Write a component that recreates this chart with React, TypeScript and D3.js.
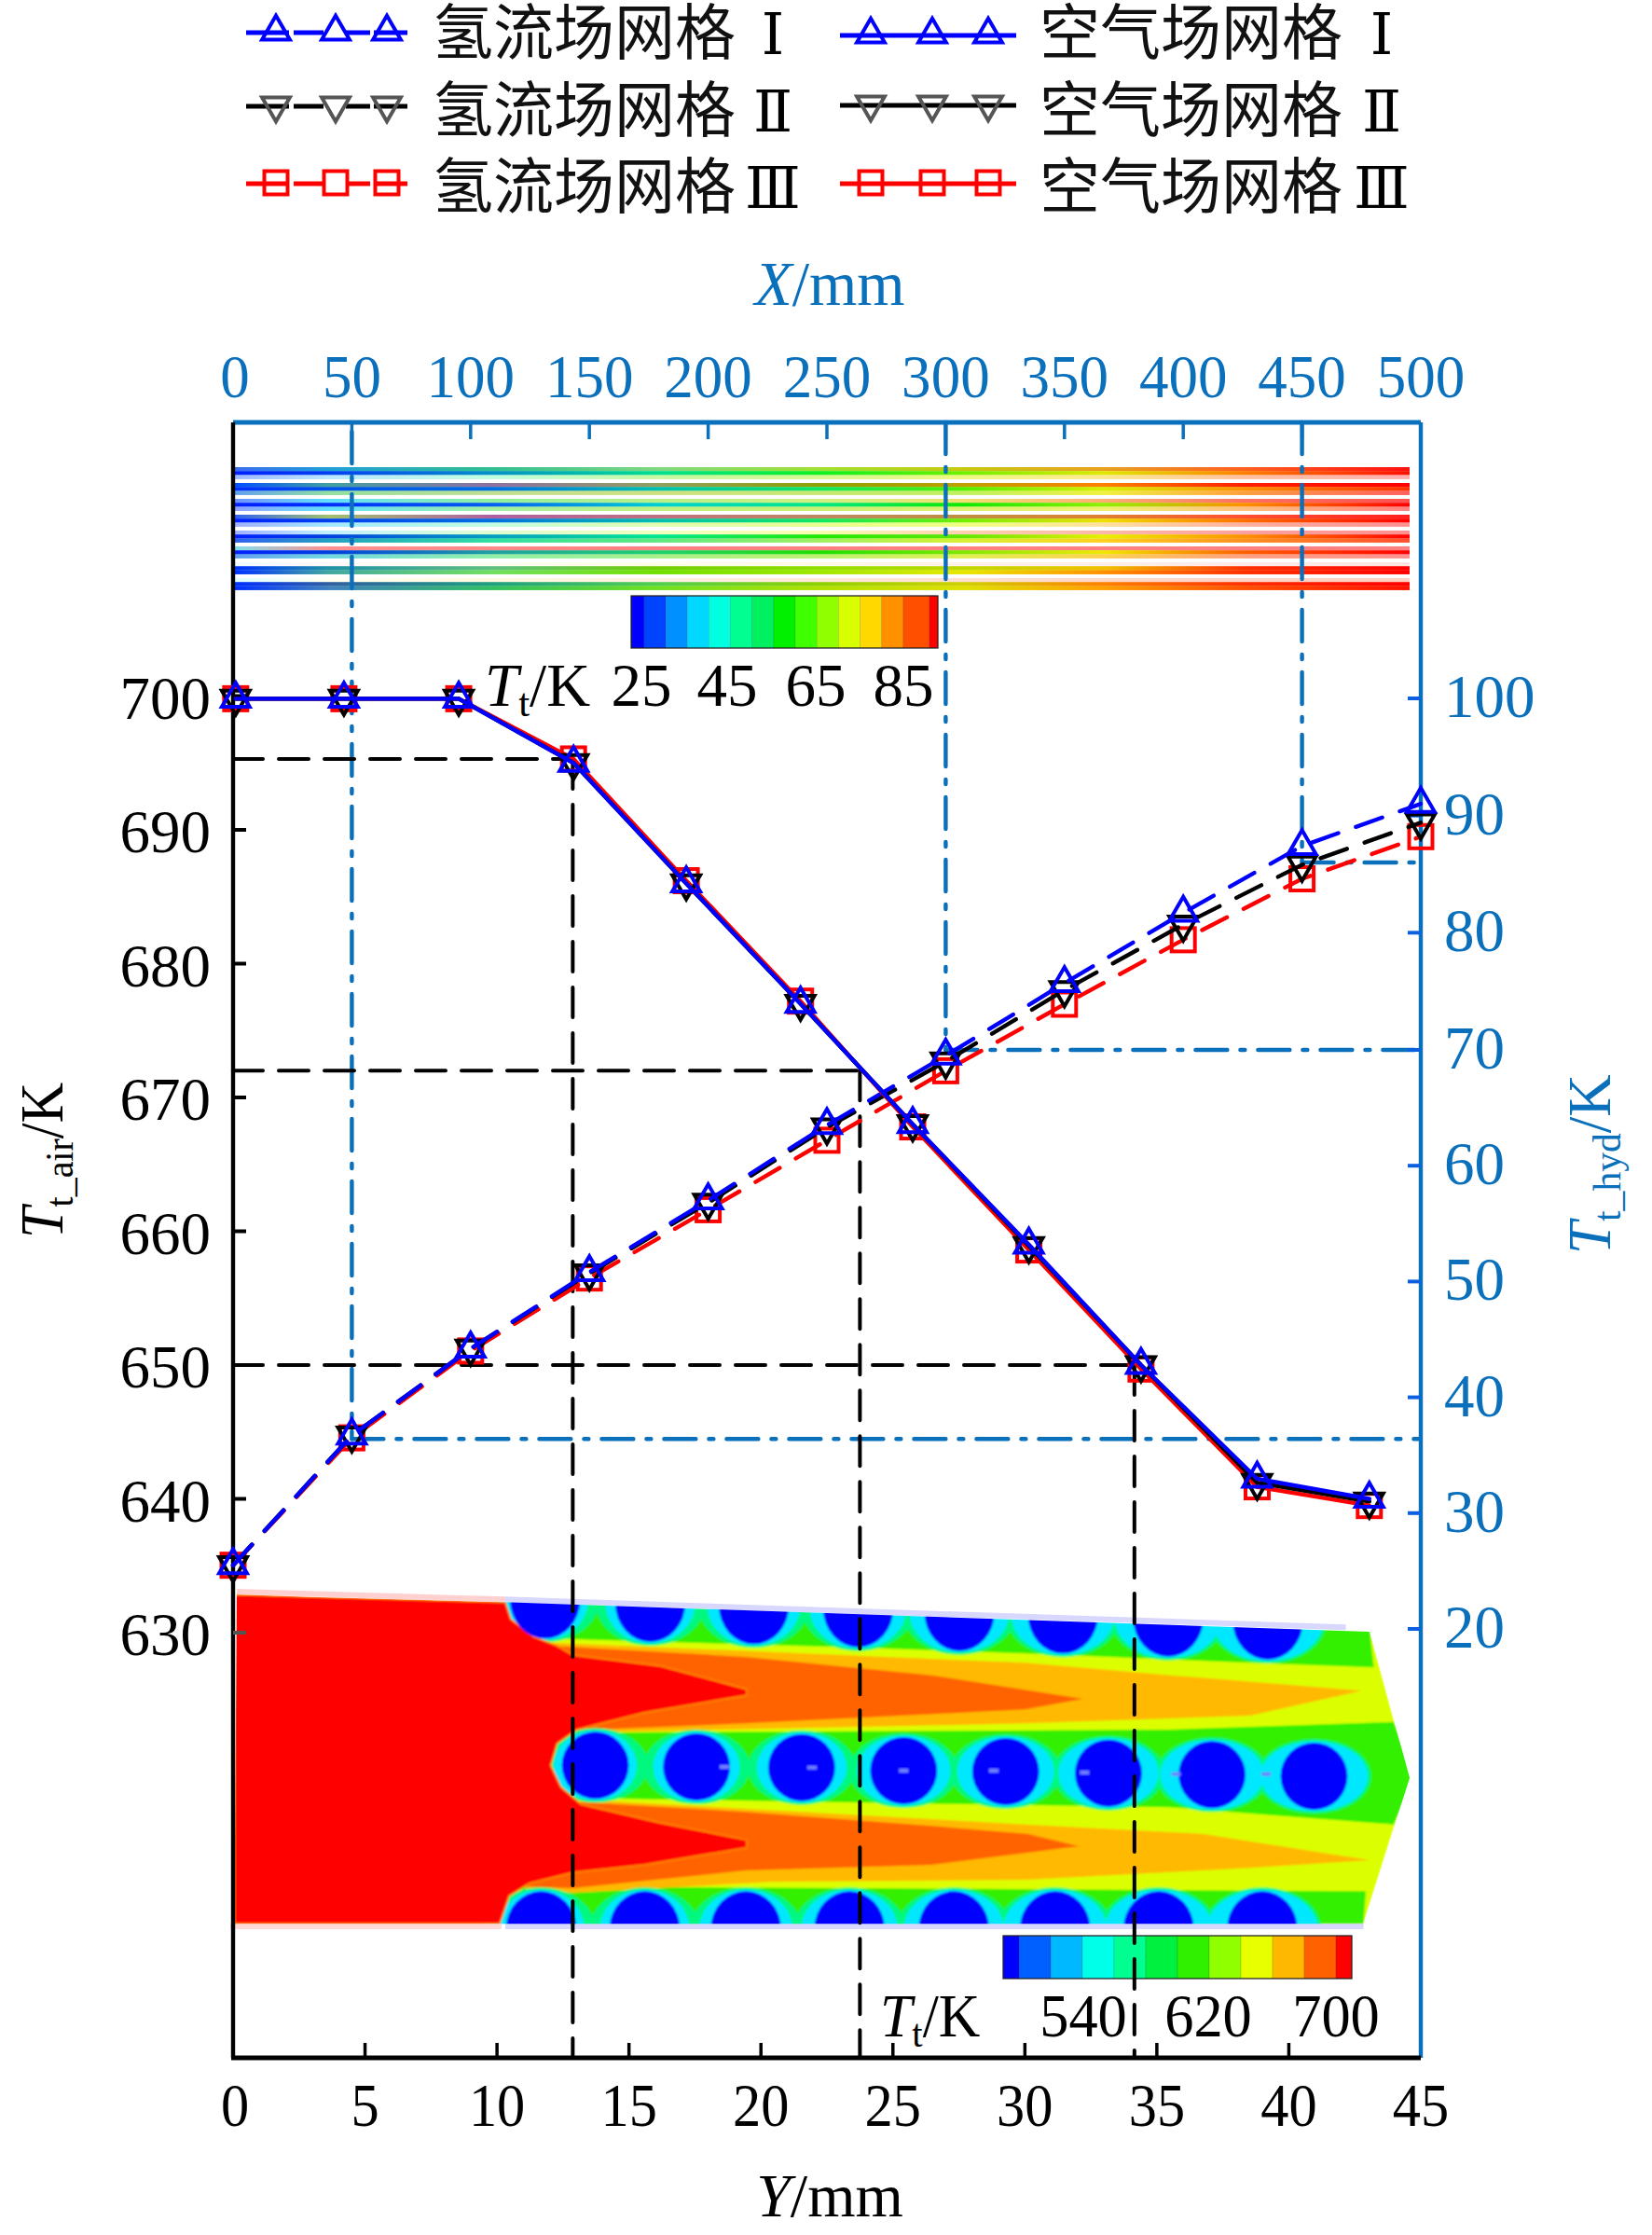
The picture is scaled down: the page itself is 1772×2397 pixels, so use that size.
import React from "react";
import * as d3 from "d3";

// ---------- data ----------
const airY = [0.1, 4.2, 8.55, 12.9, 17.17, 21.5, 25.75, 30.15, 34.4, 38.8, 43.05];
const airI = [699.8, 699.8, 699.8, 695, 686, 677, 668, 659, 650, 641.5, 640];
const airII = [699.8, 699.8, 699.8, 695, 686, 677, 668, 658.9, 650, 641.2, 639.8];
const airIII = [699.8, 699.8, 699.8, 695.3, 686.2, 677.2, 667.8, 658.6, 649.7, 640.9, 639.5];

const hydX = [0, 50, 100, 150, 200, 250, 300, 350, 400, 450, 500];
const hydI = [25.5, 36.7, 44.2, 50.8, 57, 63.5, 69.5, 75.7, 81.7, 87.4, 91];
const hydII = [25.5, 36.7, 44.2, 50.7, 56.8, 63.3, 69, 75.1, 80.7, 85.8, 89.4];
const hydIII = [25.5, 36.5, 44, 50.3, 56.2, 62.2, 68.2, 73.9, 79.4, 84.6, 88.2];

const yTicks = [0, 5, 10, 15, 20, 25, 30, 35, 40, 45];
const xTicks = [0, 50, 100, 150, 200, 250, 300, 350, 400, 450, 500];
const leftTicks = [630, 640, 650, 660, 670, 680, 690, 700];
const rightTicks = [20, 30, 40, 50, 60, 70, 80, 90, 100];

const guideAir = [
  { t: 695.3, y: 12.87 },
  { t: 672, y: 23.75 },
  { t: 650, y: 34.15 },
];
const guideHyd = [
  { x: 50, t: 36.4, from: 463 },
  { x: 300, t: 70, from: 453 },
  { x: 450, t: 86, from: 453 },
];

const legendRows = [
  { name: "Ⅰ", color: "#0000ff", marker: "up", mk: "#0000ff", yL: 35, yR: 38, base: 58 },
  { name: "Ⅱ", color: "#000000", marker: "down", mk: "#555555", yL: 114, yR: 113, base: 141 },
  { name: "Ⅲ", color: "#ff0000", marker: "square", mk: "#ff0000", yL: 197, yR: 197, base: 223 },
];
const legendMarkL = [296, 360, 415];
const legendMarkR = [934, 1000, 1060];

const barTop = ["#0000ff", "#0044ff", "#0090ff", "#00d8ff", "#00ffe0", "#00ff90", "#00f060", "#00f000", "#40ff00", "#90ff00", "#d8ff00", "#ffd800", "#ff9000", "#ff5000", "#ff0000"];
const barTopW = [0.6, 1, 1, 1, 1, 1, 1, 1, 1, 1, 1, 1, 1, 1.2, 0.4];
const barBot = ["#0000ff", "#0060ff", "#00b8ff", "#00ffe8", "#00ff90", "#00f040", "#30f000", "#90ff00", "#e8ff00", "#ffb800", "#ff6000", "#ff0000"];
const barBotW = [0.5, 1, 1, 1, 1, 1, 1, 1, 1, 1, 1, 0.5];

const V = ["#0020ff", "#0040f0", "#0090c8", "#00e090", "#10f020", "#70f000", "#e0e800", "#ff8000", "#ff1000"];
const stripBands: string[][] = [
  ["#3a6cf0", "#20a0d8", "#30c090", "#80d880", "#a0e030", "#c8c810", "#e8a020", "#ff6020", "#ff1010"],
  V,
  ["#a0b8ff", "#b8e8ff", "#c0ffe0", "#c8f8a0", "#d8f890", "#f0f880", "#ffe890", "#ffc0a0", "#ffb0b0"],
  ["#0050ff", "#40a0a0", "#9070a0", "#90a060", "#90a000", "#c0a000", "#ff8000", "#ff2000", "#ff0000"],
  ["#0030ff", "#0050e8", "#0070e0", "#00c0b0", "#10e860", "#50f000", "#d8f000", "#ff9000", "#ff3000"],
  ["#60a0f0", "#90e0a0", "#c0e090", "#d0e080", "#c8e870", "#c0f060", "#f0f040", "#ffa040", "#ff6060"],
  ["#7090ff", "#60e0ff", "#90f0a0", "#b8f088", "#d0f080", "#f0e070", "#ffb070", "#ff7060", "#ff5050"],
  ["#0020ff", "#0030f8", "#0060f0", "#00d0d0", "#00e880", "#10e800", "#90f000", "#ff9000", "#ff0000"],
  ["#90a0ff", "#60e0ff", "#a0f0a0", "#c0f080", "#c8f070", "#e0f070", "#f0f070", "#ffc080", "#ff8080"],
  ["#3060f0", "#a0c070", "#b060a0", "#c07080", "#c08860", "#c09040", "#e08030", "#ff5030", "#ff2020"],
  ["#0020ff", "#0040f0", "#0070e0", "#00c0b0", "#10e860", "#70f000", "#f0e000", "#ff7000", "#ff0000"],
  ["#a0b0ff", "#a0e8ff", "#c0ffe0", "#e0ffb0", "#e8ff90", "#f0ff80", "#ffe0a0", "#ffb0a0", "#ff9090"],
  ["#a0b0ff", "#c0f0ff", "#e0ffd0", "#f0ffc0", "#f8ffb0", "#ffd0b0", "#ffb8a8", "#ffa0a0", "#ff9090"],
  ["#0020ff", "#0040e0", "#00a0c0", "#00e890", "#20e800", "#60e800", "#e8f000", "#ff9000", "#ff0000"],
  ["#3060f0", "#20a0c0", "#30e0a0", "#60e880", "#a0f060", "#d8f030", "#ffd020", "#ff9020", "#ff5030"],
  ["#80e0f0", "#ff9090", "#ff8888", "#ff8080", "#ff8080", "#ff8080", "#ff8080", "#ff8080", "#ff8080"],
  ["#0020ff", "#0040e0", "#20a0a0", "#20d070", "#20e000", "#80e800", "#f0e800", "#ff6000", "#ff0000"],
  ["#60a0f0", "#70d8e0", "#90f0a8", "#a8f088", "#c0f070", "#e0f050", "#ffd050", "#ffa080", "#ff9090"],
  ["#f0f8ff", "#fff8f8", "#fffff0", "#ffffe8", "#fff8e8", "#fff0e8", "#ffeee8", "#ffeae8", "#ffe4e0"],
  ["#0030ff", "#2090a8", "#60c080", "#70d000", "#90e000", "#c0d800", "#f0c000", "#ff3000", "#ff0000"],
  ["#0030ff", "#40a8a0", "#70e060", "#70e000", "#a0e800", "#e8e800", "#ff9000", "#ff3000", "#ff0000"],
  ["#e0ffff", "#fffff0", "#fff8e0", "#fff0e0", "#ffe8d8", "#ffe0d0", "#ffd8c8", "#ffd4c8", "#ffd0c0"],
  ["#0030ff", "#3060a0", "#20a080", "#50d050", "#90d000", "#d0d000", "#ff8000", "#ff3000", "#ff0000"],
  ["#0030ff", "#4080c0", "#30c060", "#70e020", "#b0e000", "#e0e000", "#ffa000", "#ff5000", "#ff1000"],
];
const stripStops = [0, 0.08, 0.22, 0.36, 0.5, 0.62, 0.74, 0.86, 1];

// contour of the air field, in picture units of the field
const fieldOutline = [[28, 90], [120, 98], [365, 115], [1450, 210], [1500, 680], [1442, 1150], [25, 1150]];
const amberZones = [
  [[420, 245], [1018, 310], [1200, 350], [1440, 400], [1300, 480], [1018, 505], [450, 535]],
  [[460, 750], [1018, 830], [1240, 860], [1450, 945], [1300, 970], [1018, 1008], [700, 1015], [450, 1050], [390, 1040]],
];
const orangeZones = [
  [[420, 255], [667, 291], [900, 350], [1090, 426], [1018, 460], [667, 505], [450, 528]],
  [[460, 758], [667, 790], [900, 835], [1020, 860], [1085, 900], [900, 960], [667, 978], [450, 1035], [385, 1030]],
];
const redZone = [[25, 90], [365, 115], [372, 170], [400, 225], [430, 255], [450, 285], [560, 320], [668, 395], [668, 415], [540, 470], [455, 525], [430, 570], [422, 640], [435, 710], [460, 765], [560, 825], [668, 880], [668, 905], [540, 960], [450, 985], [395, 1020], [370, 1060], [358, 1150], [25, 1150]];
const greenZones = [
  [[370, 110], [1450, 205], [1455, 325], [1300, 310], [1018, 280], [800, 260], [420, 232]],
  [[450, 535], [1200, 525], [1480, 500], [1505, 680], [1480, 830], [1200, 775], [450, 745]],
  [[380, 1150], [385, 1030], [800, 1035], [1445, 1045], [1442, 1150]],
];
const rowTop = { cx: [415, 547, 677, 808, 935, 1065, 1197, 1322], bottom: [232, 243, 250, 260, 272, 280, 290, 300], ry: 125 };
const rowMid = { cx: [478, 605, 737, 865, 993, 1122, 1252, 1380], cy: [640, 645, 647, 657, 660, 665, 670, 675], ry: 108 };
const rowBot = { cx: [410, 540, 667, 797, 928, 1055, 1185, 1315], top: 1045, ry: 120 };
const haloSteps = [
  { gx: 24, gy: 12, gi: 0.8, color: "#00f880" },
  { gx: 10, gy: 5, gi: 2.2, color: "#00e8ff" },
];
const spots = [[640, 645], [750, 647], [865, 657], [978, 657], [1092, 663], [1207, 668], [1320, 668]];

// ---------- layout ----------
const L = 250, R = 1524, T = 453, B = 2207;
const xY = d3.scaleLinear().domain([0, 45]).range([L, R]);
const xX = d3.scaleLinear().domain([0, 500]).range([L, R]);
const yL = d3.scaleLinear().domain([630, 700]).range([1751, 746.5]);
const yR = d3.scaleLinear().domain([20, 70, 100]).range([1747, 1126, 749]);
const fx = d3.scaleLinear().domain([0, 1340 * 1.17]).range([230, 1570]);
const fy = d3.scaleLinear().domain([0, 1260]).range([1680, 2100]);

const BLUE = "#0a70bc";
const SERIF = "'Liberation Serif', serif";
const poly = d3.line<number[]>().x((d) => fx(d[0])).y((d) => fy(d[1]));
const triPath = d3.symbol(d3.symbolTriangle, 385)() as string;

function Marker({ x, y, kind, color }: { x: number; y: number; kind: string; color: string }) {
  if (kind === "square")
    return <rect x={x - 12.5} y={y - 12.5} width={25} height={25} fill="none" stroke={color} strokeWidth={4} />;
  return (
    <path d={triPath} transform={`translate(${x},${y})${kind === "down" ? " rotate(180)" : ""}`} fill="none" stroke={color} strokeWidth={4} />
  );
}

function Series({ xs, ys, scaleX, scaleY, color, kind, dash }: any) {
  const pts = xs.map((v: number, i: number) => [scaleX(v), scaleY(ys[i])]);
  return (
    <g>
      <path d={d3.line()(pts) as string} fill="none" stroke={color} strokeWidth={4.4} strokeDasharray={dash} strokeLinecap="round" />
      {pts.map((p: number[], i: number) => <Marker key={i} x={p[0]} y={p[1]} kind={kind} color={color} />)}
    </g>
  );
}

function Txt({ x, y, sx = 1, size = 65, fill = "#000", anchor = "middle", children }: any) {
  return (
    <text transform={`translate(${x},${y}) scale(${sx},1)`} fontFamily={SERIF} fontSize={size} fill={fill} textAnchor={anchor}>
      {children}
    </text>
  );
}

function Sub({ main, sub, rest }: { main: string; sub: string; rest: string }) {
  return (
    <>
      <tspan fontStyle="italic">{main}</tspan>
      <tspan fontSize="0.66em" dy={11}>{sub}</tspan>
      <tspan dy={-11}>{rest}</tspan>
    </>
  );
}

function ColorBar({ x0, x1, y0, y1, colors, weights }: any) {
  const total = d3.sum(weights as number[]);
  const s = d3.scaleLinear().domain([0, total]).range([x0, x1]);
  const cum = d3.cumsum(weights as number[]);
  return (
    <g>
      {colors.map((c: string, i: number) => {
        const a = s(i === 0 ? 0 : cum[i - 1]);
        return <rect key={i} x={a} y={y0} width={s(cum[i]) - a} height={y1 - y0} fill={c} stroke="rgba(0,0,0,0.2)" strokeWidth={0.6} />;
      })}
      <rect x={x0} y={y0} width={x1 - x0} height={y1 - y0} fill="none" stroke="#222" strokeWidth={1.2} />
    </g>
  );
}

function Strips() {
  const x0 = 251, x1 = 1512, y0 = 501;
  const rowY = (i: number) => y0 + Math.floor(i / 3) * 17 + (i % 3) * 4.22;
  return (
    <g>
      <defs>
        {stripBands.map((b, i) => (
          <linearGradient key={i} id={`band${i}`} x1="0" x2="1" y1="0" y2="0">
            {b.map((c, j) => <stop key={j} offset={stripStops[j]} stopColor={c} />)}
          </linearGradient>
        ))}
      </defs>
      {stripBands.map((_, i) => (
        <rect key={i} x={x0} y={rowY(i)} width={x1 - x0} height={4.5} fill={`url(#band${i})`} />
      ))}
    </g>
  );
}

function Halos({ cx, cy, ry, rx = 40 }: { cx: number[]; cy: number[]; ry: number; rx?: number }) {
  return (
    <g>
      {haloSteps.map((h, k) => (
        <g key={k}>
          {cx.map((c, i) => (
            <ellipse key={i} cx={fx(c)} cy={fy(cy[i])} rx={fx(c + rx + h.gx + i * h.gi) - fx(c)} ry={fy(ry + h.gy) - fy(0)} fill={h.color} />
          ))}
        </g>
      ))}
    </g>
  );
}

function Blues({ cx, cy, ry, rx = 40 }: { cx: number[]; cy: number[]; ry: number; rx?: number }) {
  return (
    <g>
      {cx.map((c, i) => <ellipse key={i} cx={fx(c)} cy={fy(cy[i])} rx={fx(c + rx) - fx(c)} ry={fy(ry) - fy(0)} fill="#0000ff" />)}
    </g>
  );
}

function Field() {
  const topCy = rowTop.bottom.map((b) => b - rowTop.ry);
  const botCy = rowBot.cx.map(() => rowBot.top + rowBot.ry);
  return (
    <g>
      <defs>
        <clipPath id="fieldClip"><path d={poly(fieldOutline as number[][]) + "Z"} /></clipPath>
        <filter id="soft" x="-2%" y="-2%" width="104%" height="104%"><feGaussianBlur stdDeviation={0.9} /></filter>
      </defs>
      <path d={poly([[365, 115], [1420, 205]]) as string} stroke="#d8d8ff" strokeWidth={6} fill="none" transform="translate(0,-3)" />
      <path d={poly([[28, 90], [365, 115]]) as string} stroke="#ffd0d0" strokeWidth={6} fill="none" transform="translate(0,-3)" />
      <path d={poly([[20, 1158], [360, 1158]]) as string} stroke="#ffd8d8" strokeWidth={6} fill="none" />
      <path d={poly([[365, 1158], [1442, 1158]]) as string} stroke="#d8d8ff" strokeWidth={6} fill="none" />
      <g clipPath="url(#fieldClip)">
        <g filter="url(#soft)">
          <path d={poly(fieldOutline as number[][]) + "Z"} fill="#dcff00" />
          {greenZones.map((z, i) => <path key={i} d={poly(z as number[][]) + "Z"} fill="#30f000" />)}
          {amberZones.map((z, i) => <path key={i} d={poly(z as number[][]) + "Z"} fill="#ffb900" />)}
          {orangeZones.map((z, i) => <path key={i} d={poly(z as number[][]) + "Z"} fill="#ff6400" />)}
          <Halos cx={rowTop.cx} cy={topCy} ry={rowTop.ry} rx={44} />
          <Halos cx={rowMid.cx} cy={rowMid.cy} ry={rowMid.ry} rx={42} />
          <Halos cx={rowBot.cx} cy={botCy} ry={rowBot.ry} rx={44} />
          <path d={poly(redZone as number[][]) + "Z"} fill="#ff0000" stroke="#ff9000" strokeWidth={1.5} />
          <Blues cx={rowTop.cx} cy={topCy} ry={rowTop.ry} rx={44} />
          <Blues cx={rowMid.cx} cy={rowMid.cy} ry={rowMid.ry} rx={42} />
          <Blues cx={rowBot.cx} cy={botCy} ry={rowBot.ry} rx={44} />
          {spots.map((s, i) => <rect key={i} x={fx(s[0]) - 5} y={fy(s[1]) - 2} width={10} height={4} fill="#6f80ff" />)}
        </g>
      </g>
    </g>
  );
}

function LegendRow({ r }: { r: (typeof legendRows)[number] }) {
  const cjk = "'Noto Sans CJK SC', sans-serif";
  const roman = "'DejaVu Serif', 'Liberation Serif', serif";
  return (
    <g>
      <line x1={264} x2={437} y1={r.yL} y2={r.yL} stroke={r.color} strokeWidth={5} strokeDasharray="46 5 32 24 26 4 36" />
      {legendMarkL.map((x) => <Marker key={x} x={x} y={r.yL - 1} kind={r.marker} color={r.mk} />)}
      <text x={464} y={r.base} fontFamily={cjk} fontSize={65} fill="#111">氢流场网格</text>
      <text x={829} y={r.base} fontFamily={roman} fontSize={62} textAnchor="middle">{r.name}</text>
      <line x1={901} x2={1090} y1={r.yR} y2={r.yR} stroke={r.color} strokeWidth={5} />
      {legendMarkR.map((x) => <Marker key={x} x={x} y={r.yR - 1} kind={r.marker} color={r.mk} />)}
      <text x={1115} y={r.base} fontFamily={cjk} fontSize={65} fill="#111">空气场网格</text>
      <text x={1482} y={r.base} fontFamily={roman} fontSize={62} textAnchor="middle">{r.name}</text>
    </g>
  );
}

export default function App() {
  const dashLine = "32 17";
  const dashDot = "34 14 5 14";
  return (
    <svg width={1772} height={2397} viewBox="0 0 1772 2397" style={{ position: "absolute", left: 0, top: 0, display: "block", background: "#fff" }}>
      {legendRows.map((r) => <LegendRow key={r.name} r={r} />)}

      <Txt x={890} y={327} fill={BLUE} size={68} sx={0.97}>
        <tspan fontStyle="italic">X</tspan>/mm
      </Txt>

      <Strips />
      <Field />
      <ColorBar x0={677} x1={1006} y0={639} y1={695} colors={barTop} weights={barTopW} />
      <ColorBar x0={1076} x1={1450} y0={2076} y1={2122} colors={barBot} weights={barBotW} />

      {/* guides */}
      {guideHyd.map((g) => (
        <g key={g.x} stroke={BLUE} strokeWidth={4.4} fill="none" strokeDasharray={dashDot} strokeLinecap="round">
          <line x1={xX(g.x)} x2={xX(g.x)} y1={g.from} y2={yR(g.t)} />
          <line x1={xX(g.x)} x2={R} y1={yR(g.t)} y2={yR(g.t)} />
        </g>
      ))}
      {guideAir.map((g) => (
        <g key={g.t} stroke="#000" strokeWidth={4} fill="none" strokeDasharray={dashLine} strokeLinecap="round">
          <line x1={L} x2={xY(g.y)} y1={yL(g.t)} y2={yL(g.t)} />
          <line x1={xY(g.y)} x2={xY(g.y)} y1={yL(g.t)} y2={B} />
        </g>
      ))}

      {/* axes */}
      <line x1={L} x2={R} y1={T} y2={T} stroke={BLUE} strokeWidth={5} />
      <line x1={R} x2={R} y1={T} y2={B} stroke={BLUE} strokeWidth={4.4} />
      <line x1={L} x2={L} y1={T} y2={B} stroke="#000" strokeWidth={4.4} />
      <line x1={L - 2} x2={R} y1={B} y2={B} stroke="#000" strokeWidth={5} />

      {xTicks.map((v) => (
        <g key={v}>
          {v > 0 && v < 500 && <line x1={xX(v)} x2={xX(v)} y1={T} y2={T + 18} stroke={BLUE} strokeWidth={3.5} />}
          <Txt x={xX(v) + (v === 0 ? 2 : 0)} y={426} sx={0.97} fill={BLUE}>{v}</Txt>
        </g>
      ))}
      {yTicks.map((v) => (
        <g key={v}>
          {v > 0 && v < 45 && <line x1={xY(v)} x2={xY(v)} y1={B} y2={B - 16} stroke="#000" strokeWidth={3.5} />}
          <Txt x={xY(v) + (v === 0 ? 2 : 0)} y={2280} sx={0.93}>{v}</Txt>
        </g>
      ))}
      {leftTicks.map((v) => (
        <g key={v}>
          <line x1={L} x2={L + 14} y1={yL(v)} y2={yL(v)} stroke={v === 630 ? "#555" : "#000"} strokeWidth={4} />
          <Txt x={226} y={yL(v) + 24} anchor="end">{v}</Txt>
        </g>
      ))}
      {rightTicks.map((v) => (
        <g key={v}>
          <line x1={R} x2={R - 14} y1={yR(v)} y2={yR(v)} stroke="#0a60e0" strokeWidth={4} />
          <Txt x={1549} y={yR(v) + 20} anchor="start" fill={BLUE}>{v}</Txt>
        </g>
      ))}

      {/* series */}
      <Series xs={hydX} ys={hydIII} scaleX={xX} scaleY={yR} color="#ff0000" kind="square" dash="30 20" />
      <Series xs={hydX} ys={hydII} scaleX={xX} scaleY={yR} color="#000000" kind="down" dash="30 20" />
      <Series xs={hydX} ys={hydI} scaleX={xX} scaleY={yR} color="#0000ff" kind="up" dash="30 20" />
      <Series xs={airY} ys={airIII} scaleX={xY} scaleY={yL} color="#ff0000" kind="square" />
      <Series xs={airY} ys={airII} scaleX={xY} scaleY={yL} color="#000000" kind="down" />
      <Series xs={airY} ys={airI} scaleX={xY} scaleY={yL} color="#0000ff" kind="up" />

      {/* labels */}
      <Txt x={520} y={757} anchor="start"><Sub main="T" sub="t" rest="/K" /></Txt>
      {[["25", 688], ["45", 780], ["65", 875], ["85", 969]].map(([t, x]) => <Txt key={t} x={x} y={757}>{t}</Txt>)}
      <Txt x={944} y={2184} anchor="start" sx={0.95}><Sub main="T" sub="t" rest="/K" /></Txt>
      {[["540", 1162], ["620", 1296], ["700", 1433]].map(([t, x]) => <Txt key={t} x={x} y={2184} sx={0.96}>{t}</Txt>)}

      <g transform="translate(67,1328) rotate(-90)">
        <Txt x={0} y={0} anchor="start" sx={0.93}><Sub main="T" sub="t_air" rest="/K" /></Txt>
      </g>
      <g transform="translate(1727,1345) rotate(-90)">
        <Txt x={0} y={0} anchor="start" sx={0.97} fill={BLUE}><Sub main="T" sub="t_hyd" rest="/K" /></Txt>
      </g>

      <Txt x={890} y={2377} size={66} sx={1.0}>
        <tspan fontStyle="italic">Y</tspan>/mm
      </Txt>
    </svg>
  );
}
